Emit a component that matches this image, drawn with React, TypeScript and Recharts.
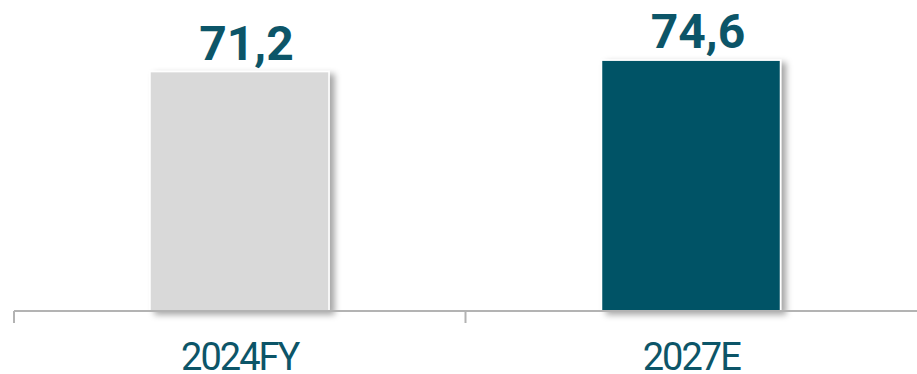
import React from "react";
import { BarChart, Bar, XAxis, YAxis, Cell, LabelList } from "recharts";

const categories = ["2024FY", "2027E"];
const values = [71.2, 74.6];
const barColors = ["#d9d9d9", "#025366"];

const data = categories.map((c, i) => ({ name: c, value: values[i] }));

const TEXT_COLOR = "#0c5568";
const AXIS_COLOR = "#b3b3b3";

const CategoryTick = (props: any) => {
  const { x, y, payload } = props;
  const off = payload && typeof payload.offset === "number" && payload.offset > 0 ? payload.offset : 225.75;
  return (
    <g>
      <line x1={x - off} x2={x - off} y1={y} y2={y + 12} stroke={AXIS_COLOR} strokeWidth={2} />
      <text
        x={x}
        y={y + 59}
        textAnchor="middle"
        fill={TEXT_COLOR}
        fontFamily="Roboto"
        fontSize={38}
        letterSpacing={-2}
      >
        {payload.value}
      </text>
    </g>
  );
};

const ValueLabel = (props: any) => {
  const { x, y, width, value } = props;
  return (
    <text
      x={x + width / 2 + 7}
      y={y - 12}
      textAnchor="middle"
      fill={TEXT_COLOR}
      fontFamily="Roboto"
      fontWeight={700}
      fontSize={48}
    >
      {Number(value).toFixed(1).replace(".", ",")}
    </text>
  );
};

const ShadowBar = (props: any) => {
  const { x, y, width, height, fill } = props;
  return (
    <rect
      x={x}
      y={y}
      width={width}
      height={height}
      fill={fill}
      stroke="#ffffff"
      strokeWidth={1.5}
      filter="url(#barShadow)"
    />
  );
};

export default function App() {
  return (
    <div style={{ position: "absolute", left: 0, top: 0, width: 917, height: 374, background: "#fff" }}>
      <BarChart
        width={917}
        height={374}
        data={data}
        margin={{ top: 42, right: 0, bottom: 0, left: 14 }}
        barCategoryGap={0}
      >
        <defs>
          <filter id="barShadow" x="-10%" y="-10%" width="130%" height="130%">
            <feDropShadow dx={5} dy={3} stdDeviation={3} floodColor="#000000" floodOpacity={0.35} />
          </filter>
        </defs>
        <XAxis
          dataKey="name"
          height={63}
          tickSize={0}
          tickMargin={0}
          tickLine={false}
          axisLine={{ stroke: AXIS_COLOR, strokeWidth: 2 }}
          tick={<CategoryTick />}
          interval={0}
        />
        <YAxis hide domain={[0, 80]} />
        <Bar dataKey="value" barSize={179} isAnimationActive={false} shape={<ShadowBar />}>
          {data.map((d, i) => (
            <Cell key={d.name} fill={barColors[i]} />
          ))}
          <LabelList dataKey="value" content={<ValueLabel />} />
        </Bar>
      </BarChart>
    </div>
  );
}
